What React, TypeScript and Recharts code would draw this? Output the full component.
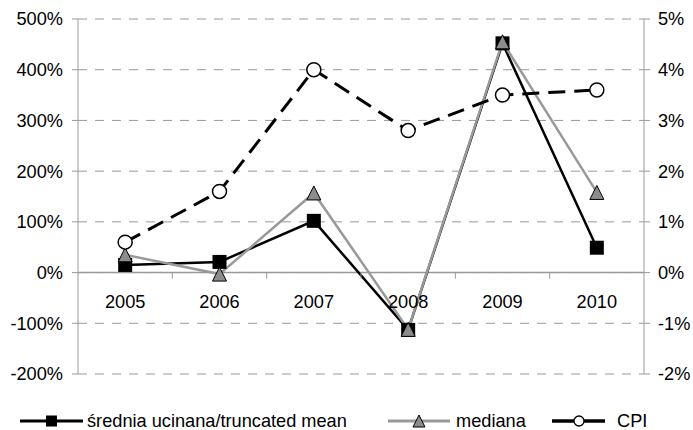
import React from 'react';
import { LineChart, Line, XAxis, YAxis, CartesianGrid, ReferenceLine } from 'recharts';

// years on the category axis
const years = ['2005', '2006', '2007', '2008', '2009', '2010'];

// left axis, % change
const truncatedMean = [15, 21, 102, -113, 452, 49];
const median = [35, -3, 157, -112, 455, 158];

// right axis, CPI %
const cpi = [0.6, 1.6, 4.0, 2.8, 3.5, 3.6];

const leftTicks = [-200, -100, 0, 100, 200, 300, 400, 500];
const rightTicks = [-2, -1, 0, 1, 2, 3, 4, 5];

const data = years.map((year, i) => ({
  year,
  mean: truncatedMean[i],
  median: median[i],
  cpi: cpi[i],
}));

const W = 693;
const H = 430;
const TOP = 19;
const LEFT_W = 78;
const RIGHT_W = 49;
const BOTTOM = 56;
const PLOT_W = W - LEFT_W - RIGHT_W;
const PLOT_H = H - TOP - BOTTOM;
const BAND = PLOT_W / years.length;
// zero line sits 5/7 of the way down (domain -200..500)
const ZERO_Y = TOP + PLOT_H * (5 / 7);

const FONT = '"Liberation Sans", Arial, sans-serif';
const FS = 18.2;
const GRAY = '#999';

const YearTick = (props: any) => {
  const { x, payload, index } = props;
  return (
    <g>
      {index > 0 && (
        <line x1={x - BAND / 2} x2={x - BAND / 2} y1={ZERO_Y} y2={ZERO_Y + 6} stroke={GRAY} strokeWidth={1} />
      )}
      <text x={x} y={ZERO_Y + 35} textAnchor="middle" fontFamily={FONT} fontSize={FS} fill="#000">
        {payload.value}
      </text>
    </g>
  );
};

const SquareDot = (props: any) => {
  const { cx, cy, index } = props;
  if (cx == null || cy == null) return <g key={`sq-${index}`} />;
  return <rect key={`sq-${index}`} x={cx - 7} y={cy - 7} width={14} height={14} fill="#000" />;
};

const TriangleDot = (props: any) => {
  const { cx, cy, index } = props;
  if (cx == null || cy == null) return <g key={`tr-${index}`} />;
  const s = 7;
  return (
    <path
      key={`tr-${index}`}
      d={`M${cx},${cy - s} L${cx + s},${cy + s} L${cx - s},${cy + s} Z`}
      fill="#8c8c8c"
      stroke="#000"
      strokeWidth={1}
    />
  );
};

const CircleDot = (props: any) => {
  const { cx, cy, index } = props;
  if (cx == null || cy == null) return <g key={`ci-${index}`} />;
  return <circle key={`ci-${index}`} cx={cx} cy={cy} r={7} fill="#fff" stroke="#000" strokeWidth={1.5} />;
};

const Legend = () => (
  <svg width={W} height={40} style={{ position: 'absolute', left: 0, top: 400 }}>
    <g fontFamily={FONT} fontSize={FS} fill="#000">
      <line x1={20} x2={83} y1={21} y2={21} stroke="#000" strokeWidth={3} />
      <rect x={46} y={15.5} width={11} height={11} fill="#000" />
      <text x={87} y={27}>średnia ucinana/truncated mean</text>

      <line x1={388} x2={450} y1={21} y2={21} stroke={GRAY} strokeWidth={3} />
      <path d="M419,15 L425,27 L413,27 Z" fill="#8c8c8c" stroke="#000" strokeWidth={1} />
      <text x={456} y={27}>mediana</text>

      <line x1={552} x2={605} y1={21} y2={21} stroke="#000" strokeWidth={3.5} />
      <circle cx={579} cy={21} r={5} fill="#fff" stroke="#000" strokeWidth={1.3} />
      <text x={617} y={27}>CPI</text>
    </g>
  </svg>
);

const App: React.FC = () => {
  return (
    <div style={{ position: 'absolute', left: 0, top: 0, width: W, height: H, background: '#fff' }}>
      <LineChart width={W} height={H} data={data} margin={{ top: TOP, right: 0, bottom: 0, left: 0 }}>
        <CartesianGrid yAxisId="left" vertical={false} stroke={GRAY} strokeDasharray="9 8" />
        <XAxis
          dataKey="year"
          height={BOTTOM}
          axisLine={false}
          tickLine={false}
          padding={{ left: BAND / 2, right: BAND / 2 }}
          tick={<YearTick />}
          interval={0}
        />
        <YAxis
          yAxisId="left"
          orientation="left"
          width={LEFT_W}
          domain={[-200, 500]}
          ticks={leftTicks}
          tickFormatter={(v: number) => `${v}%`}
          axisLine={{ stroke: GRAY }}
          tickLine={{ stroke: GRAY }}
          tickSize={6}
          tickMargin={9}
          tick={{ fontFamily: FONT, fontSize: FS, fill: '#000' }}
        />
        <YAxis
          yAxisId="right"
          orientation="right"
          width={RIGHT_W}
          domain={[-2, 5]}
          ticks={rightTicks}
          tickFormatter={(v: number) => `${v}%`}
          axisLine={{ stroke: GRAY }}
          tickLine={{ stroke: GRAY }}
          tickSize={6}
          tickMargin={8}
          tick={{ fontFamily: FONT, fontSize: FS, fill: '#000', textAnchor: 'start' }}
        />
        <ReferenceLine yAxisId="left" y={0} stroke={GRAY} strokeWidth={1.5} />
        <Line
          yAxisId="left"
          dataKey="mean"
          stroke="#000"
          strokeWidth={2.5}
          dot={<SquareDot />}
          isAnimationActive={false}
        />
        <Line
          yAxisId="left"
          dataKey="median"
          stroke={GRAY}
          strokeWidth={2.5}
          dot={<TriangleDot />}
          isAnimationActive={false}
        />
        <Line
          yAxisId="right"
          dataKey="cpi"
          stroke="#000"
          strokeWidth={3}
          strokeDasharray="17 9"
          dot={<CircleDot />}
          isAnimationActive={false}
        />
      </LineChart>
      <Legend />
    </div>
  );
};

export default App;
